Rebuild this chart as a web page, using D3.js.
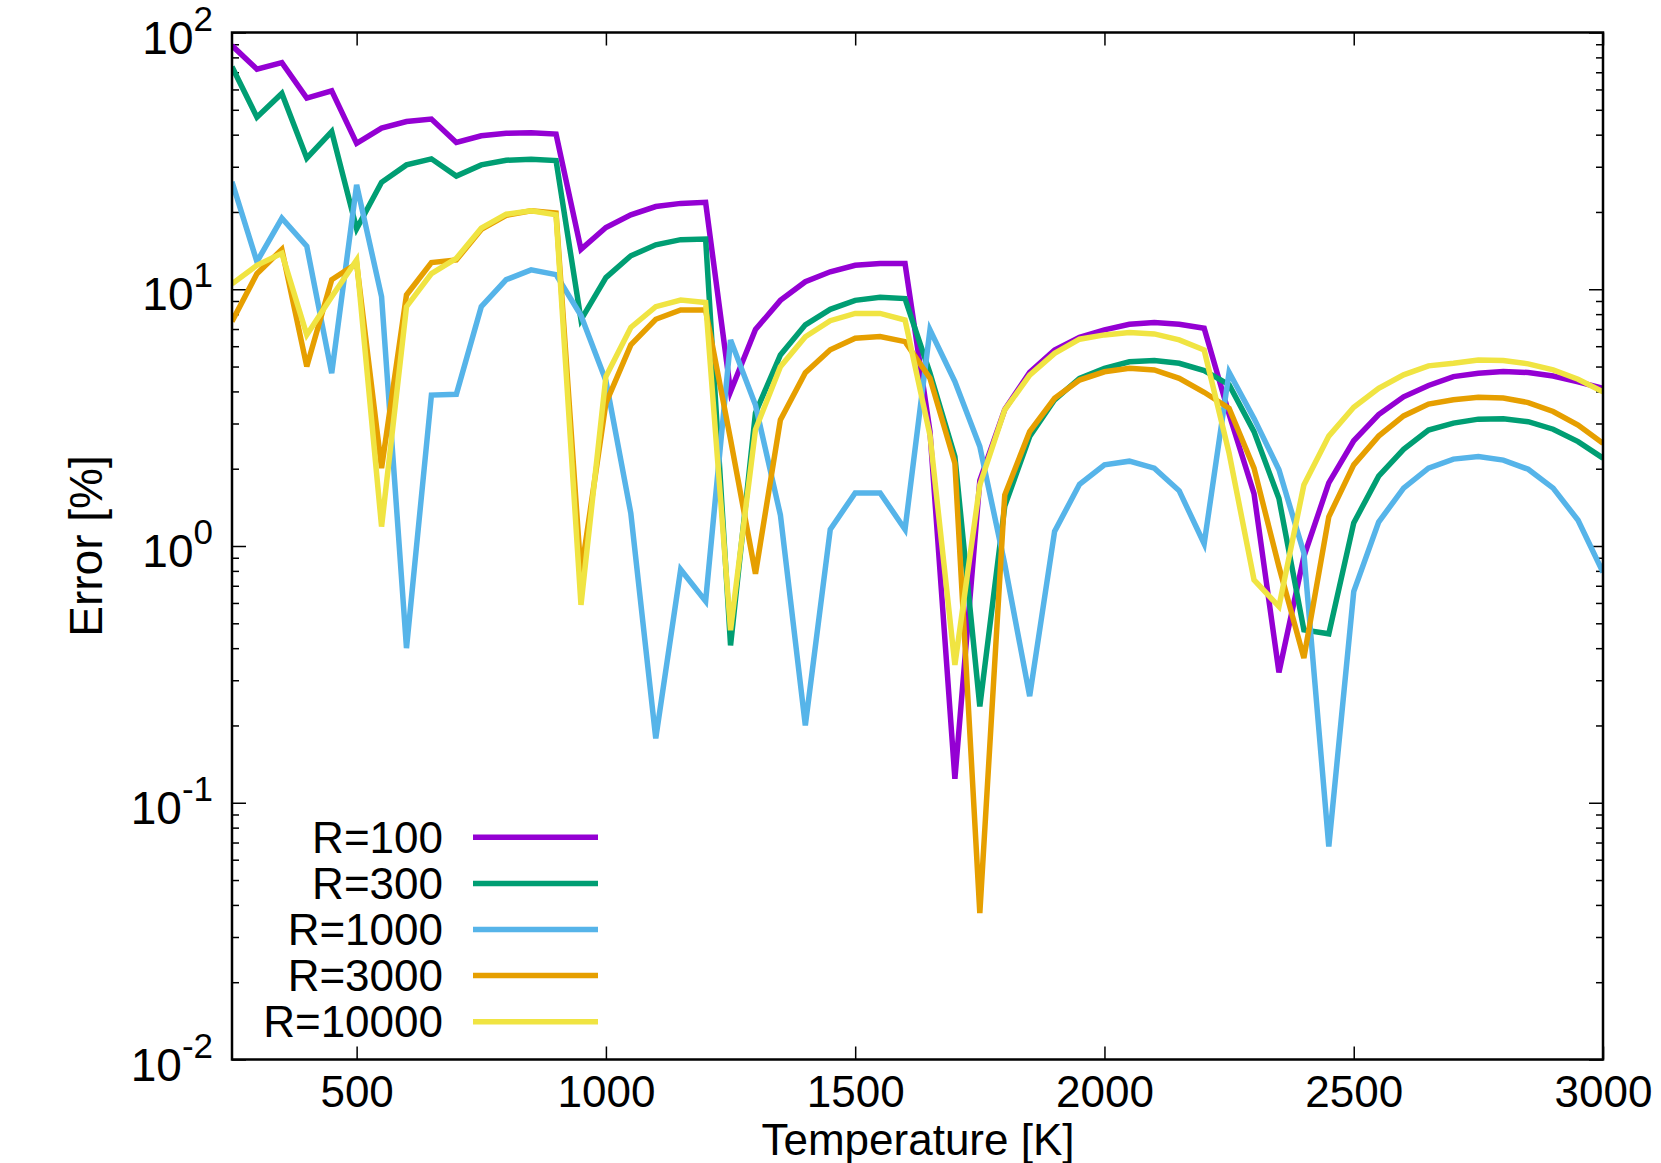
<!DOCTYPE html>
<html><head><meta charset="utf-8">
<script src="https://cdn.jsdelivr.net/npm/d3@7"></script>
<style>
body{margin:0;background:#fff}
text{font-family:"Liberation Sans",Arial,Helvetica,sans-serif;fill:#000}
</style>
</head><body>
<svg id="chart" width="1661" height="1163"></svg>
<script>
// ---------------- data ----------------
const temperatures = [250,300,350,400,450,500,550,600,650,700,750,800,850,900,950,1000,1050,1100,1150,1200,1250,1300,1350,1400,1450,1500,1550,1600,1650,1700,1750,1800,1850,1900,1950,2000,2050,2100,2150,2200,2250,2300,2350,2400,2450,2500,2550,2600,2650,2700,2750,2800,2850,2900,2950,3000];

const errR100 = [88.9,72,76.3,55.5,59.3,37.0,42.4,45,46,37.3,39.6,40.5,40.7,40.2,14.3,17.4,19.5,21,21.6,21.8,4.0,6.97,9.05,10.7,11.7,12.4,12.6,12.6,2.8,0.124,1.8,3.4,4.75,5.8,6.5,6.95,7.3,7.42,7.3,7.05,3.26,1.6,0.322,0.91,1.76,2.57,3.25,3.81,4.22,4.57,4.71,4.78,4.74,4.59,4.36,4.11];

const errR300 = [73.6,46.8,57.9,32.4,41.1,17.2,26.1,30.5,32.2,27.6,30.5,31.8,32.1,31.7,7.6,11.1,13.5,14.9,15.6,15.7,0.41,3.3,5.55,7.27,8.35,9.05,9.3,9.2,4.71,2.23,0.237,1.43,2.67,3.71,4.5,4.92,5.22,5.28,5.15,4.82,4.25,2.79,1.53,0.471,0.455,1.23,1.87,2.38,2.83,3.01,3.12,3.13,3.05,2.85,2.55,2.2];

const errR1000 = [26.2,12.8,18.9,14.7,4.71,25.5,9.35,0.40,3.87,3.9,8.55,10.9,11.9,11.4,7.9,4.4,1.34,0.178,0.81,0.61,6.35,3.54,1.32,0.20,1.16,1.61,1.61,1.16,6.95,4.37,2.44,0.85,0.26,1.14,1.74,2.07,2.14,2.01,1.64,1.02,4.75,3.14,1.98,0.94,0.0675,0.664,1.24,1.68,2.01,2.18,2.23,2.16,1.99,1.68,1.26,0.79];

const errR3000 = [7.49,11.5,14.3,5.0,10.9,12.6,2.01,9.5,12.7,13.0,17.1,19.4,20.2,19.8,0.78,3.6,6.07,7.64,8.3,8.3,2.6,0.78,3.1,4.73,5.81,6.44,6.54,6.25,4.5,2.1,0.0372,1.58,2.79,3.76,4.43,4.77,4.92,4.85,4.5,3.97,3.44,2.01,0.83,0.366,1.30,2.07,2.68,3.21,3.57,3.71,3.8,3.77,3.62,3.34,2.96,2.51];

const errR10000 = [10.5,12.4,13.8,6.64,9.35,13.0,1.19,8.55,11.5,13.2,17.3,19.6,20.2,19.5,0.59,4.57,7.1,8.55,9.08,8.87,0.47,2.84,4.99,6.53,7.54,8.05,8.05,7.59,2.7,0.344,1.73,3.39,4.63,5.63,6.39,6.64,6.78,6.7,6.35,5.8,2.3,0.738,0.581,1.73,2.68,3.47,4.11,4.64,5.03,5.15,5.3,5.28,5.12,4.85,4.46,3.99];

const seriesNames = ["R=100","R=300","R=1000","R=3000","R=10000"];
const seriesColors = ["#9400d3","#009e73","#56b4e9","#e69f00","#f0e442"];
const seriesValues = [errR100, errR300, errR1000, errR3000, errR10000];

const xTickValues = [500,1000,1500,2000,2500,3000];
const yTickExponents = [-2,-1,0,1,2];
const yMinorValues = [0.02,0.03,0.04,0.05,0.06,0.07,0.08,0.09,0.2,0.3,0.4,0.5,0.6,0.7,0.8,0.9,2,3,4,5,6,7,8,9,20,30,40,50,60,70,80,90];

const xTitle = "Temperature [K]";
const yTitle = "Error [%]";

// ---------------- layout ----------------
const plot = {left:232, right:1603, top:32.5, bottom:1059.5};
const FS = 44;

const svg = d3.select("#chart");
const x = d3.scaleLinear().domain([250,3000]).range([plot.left, plot.right]);
const y = d3.scaleLog().domain([0.01,100]).range([plot.bottom, plot.top]);

svg.append("rect").attr("width",1661).attr("height",1163).attr("fill","#fff");

svg.append("defs").append("clipPath").attr("id","clip")
  .append("rect").attr("x",plot.left).attr("y",plot.top)
  .attr("width",plot.right-plot.left).attr("height",plot.bottom-plot.top);

function styleAxis(g){
  g.select(".domain").remove();
  g.selectAll(".tick line").attr("stroke","#000").attr("stroke-width",1.5);
}

// bottom axis (ticks inward + labels)
svg.append("g").attr("transform",`translate(0,${plot.bottom})`)
  .call(d3.axisBottom(x).tickValues(xTickValues).tickSize(-13).tickPadding(16).tickFormat(d3.format("d")))
  .call(styleAxis)
  .call(g=>g.selectAll("text").attr("font-size",FS).attr("font-family",'"Liberation Sans",Arial,sans-serif').attr("fill","#000"));
// top axis mirror
svg.append("g").attr("transform",`translate(0,${plot.top})`)
  .call(d3.axisTop(x).tickValues(xTickValues).tickSize(-13).tickFormat(""))
  .call(styleAxis);
// left axis major/minor
svg.append("g").attr("transform",`translate(${plot.left},0)`)
  .call(d3.axisLeft(y).tickValues(yTickExponents.map(e=>Math.pow(10,e))).tickSize(-14).tickFormat(""))
  .call(styleAxis);
svg.append("g").attr("transform",`translate(${plot.left},0)`)
  .call(d3.axisLeft(y).tickValues(yMinorValues).tickSize(-7).tickFormat(""))
  .call(styleAxis);
// right axis mirror
svg.append("g").attr("transform",`translate(${plot.right},0)`)
  .call(d3.axisRight(y).tickValues(yTickExponents.map(e=>Math.pow(10,e))).tickSize(-14).tickFormat(""))
  .call(styleAxis);
svg.append("g").attr("transform",`translate(${plot.right},0)`)
  .call(d3.axisRight(y).tickValues(yMinorValues).tickSize(-7).tickFormat(""))
  .call(styleAxis);

// y tick labels 10^e
const yl = svg.append("g").selectAll("text").data(yTickExponents).join("text")
  .attr("x",213).attr("y",e=>y(Math.pow(10,e))+21)
  .attr("text-anchor","end").attr("font-size",46);
yl.append("tspan").text("10");
yl.append("tspan").attr("font-size",35).attr("dy",-23).text(e=>String(e));

// series lines
const line = d3.line().x((d,i)=>x(temperatures[i])).y(d=>y(d));
const lines = svg.append("g").attr("clip-path","url(#clip)");
seriesValues.forEach((vals,k)=>{
  lines.append("path").datum(vals).attr("d",line)
    .attr("fill","none").attr("stroke",seriesColors[k]).attr("stroke-width",5.5)
    .attr("stroke-linejoin","miter").attr("stroke-miterlimit",4);
});

// border
svg.append("rect").attr("x",plot.left).attr("y",plot.top)
  .attr("width",plot.right-plot.left).attr("height",plot.bottom-plot.top)
  .attr("fill","none").attr("stroke","#000").attr("stroke-width",2.5);

// legend
const leg = svg.append("g").selectAll("g").data(seriesNames).join("g")
  .attr("transform",(d,i)=>`translate(0,${837.3+i*46.1})`);
leg.append("text").attr("x",443).attr("y",15.5).attr("text-anchor","end").attr("font-size",FS).text(d=>d);
leg.append("line").attr("x1",473).attr("x2",598).attr("y1",0).attr("y2",0)
  .attr("stroke",(d,i)=>seriesColors[i]).attr("stroke-width",5.5);

// axis titles
svg.append("text").attr("x",(plot.left+plot.right)/2+0.5).attr("y",1155)
  .attr("text-anchor","middle").attr("font-size",FS).text(xTitle);
svg.append("text").attr("transform","translate(102,546) rotate(-90)")
  .attr("text-anchor","middle").attr("font-size",46).text(yTitle);
</script>
</body></html>
